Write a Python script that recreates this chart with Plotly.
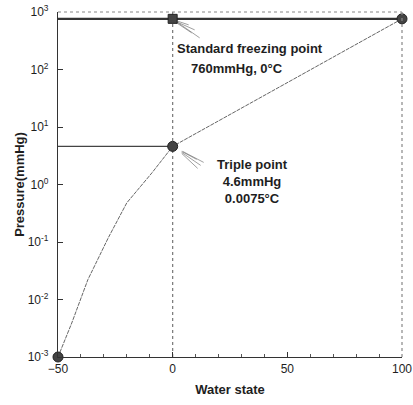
import math
import plotly.graph_objects as go

# ---- data ----
curve_temp = [-50, -44, -37, -28, -20, -9, 0, 50, 100]
curve_pressure = [0.001, 0.0039, 0.022, 0.12, 0.48, 1.6, 4.6, 59, 760]

circle_temp = [-50, 0, 100]
circle_pressure = [0.001, 4.6, 760]

freezing_temp = [0]
freezing_pressure = [760]

triple_temp = 0
triple_pressure = 4.6
std_pressure = 760

x_ticks = [-50, 0, 50, 100]
y_ticks = [1e-3, 1e-2, 1e-1, 1e0, 1e1, 1e2, 1e3]
y_ticktext = ["10<sup>-3</sup>", "10<sup>-2</sup>", "10<sup>-1</sup>", "10<sup>0</sup>",
              "10<sup>1</sup>", "10<sup>2</sup>", "10<sup>3</sup>"]

FONT = "Liberation Sans, Arial, sans-serif"
TXT = "#1e1e1e"

W, H = 413, 405
ML, MR, MT, MB = 58, 11, 12, 48
XR = [-50, 100]
YR = [-3, 3]
kx = (W - ML - MR) / (XR[1] - XR[0])   # px per x unit
ky = (H - MT - MB) / (YR[1] - YR[0])   # px per decade

fig = go.Figure()

# reference lines
fig.add_trace(go.Scatter(x=[x_ticks[0], x_ticks[-1]], y=[std_pressure, std_pressure], mode="lines",
                         line=dict(color="#333333", width=2.2), hoverinfo="skip", showlegend=False))
fig.add_trace(go.Scatter(x=[x_ticks[0], triple_temp], y=[triple_pressure, triple_pressure], mode="lines",
                         line=dict(color="#444444", width=1.3), hoverinfo="skip", showlegend=False))
fig.add_trace(go.Scatter(x=[triple_temp, triple_temp], y=[y_ticks[0], y_ticks[-1]], mode="lines",
                         line=dict(color="#777777", width=1.2, dash="dot"), hoverinfo="skip", showlegend=False))

# curve
fig.add_trace(go.Scatter(x=curve_temp, y=curve_pressure, mode="lines",
                         line=dict(color="#666666", width=1, dash="4px,1px"), showlegend=False))

# leader-line fans: pixel offsets (right, down) from the anchor points
def fan(ax, ay, segs):
    xs, ys = [], []
    for (x0, y0, x1, y1) in segs:
        for dx, dy in ((x0, y0), (x1, y1)):
            xs.append(ax + dx / kx)
            ys.append(10 ** (math.log10(ay) - dy / ky))
        xs.append(None)
        ys.append(None)
    return xs, ys

fx, fy = fan(freezing_temp[0], freezing_pressure[0],
             [(4, 2, 16, 6), (4, 3, 22, 11), (4, 3, 27, 19), (4, 4, 19, 14)])
tx, ty = fan(triple_temp, triple_pressure,
             [(9, 5, 24, 13), (9, 6, 28, 19), (9, 7, 25, 22), (10, 5, 31, 16)])
fig.add_trace(go.Scatter(x=fx + tx, y=fy + ty, mode="lines", connectgaps=False,
                         line=dict(color="#777777", width=0.7), hoverinfo="skip", showlegend=False))

# markers
fig.add_trace(go.Scatter(x=circle_temp, y=circle_pressure, mode="markers", cliponaxis=False,
                         marker=dict(symbol="circle", size=10, color="#444444",
                                     line=dict(color="#222222", width=1)), showlegend=False))
fig.add_trace(go.Scatter(x=freezing_temp, y=freezing_pressure, mode="markers", cliponaxis=False,
                         marker=dict(symbol="square", size=9, color="#444444",
                                     line=dict(color="#222222", width=1)), showlegend=False))

shapes = [
    dict(type="line", xref="paper", yref="paper", x0=0, x1=1, y0=1, y1=1,
         line=dict(color="#888888", width=1.2, dash="dot")),
    dict(type="line", xref="paper", yref="paper", x0=1, x1=1, y0=0, y1=1,
         line=dict(color="#888888", width=1.2, dash="dot")),
]

annotations = [
    dict(x=0.0, y=2.37, xref="x", yref="y", xanchor="left", yanchor="middle",
         xshift=2, text="<b>Standard freezing point</b>", showarrow=False,
         font=dict(family=FONT, size=13, color=TXT)),
    dict(x=0.0, y=2.02, xref="x", yref="y", xanchor="left", yanchor="middle",
         xshift=16, text="<b>760mmHg, 0°C</b>", showarrow=False,
         font=dict(family=FONT, size=13, color=TXT)),
    dict(x=34.6, y=0.06, xref="x", yref="y", xanchor="center", yanchor="middle",
         text="<b>Triple point</b><br><b>4.6mmHg</b><br><b>0.0075°C</b>", showarrow=False,
         align="center", font=dict(family=FONT, size=13, color=TXT)),
]

fig.update_layout(
    width=W, height=H,
    margin=dict(l=ML, r=MR, t=MT, b=MB),
    paper_bgcolor="white", plot_bgcolor="white",
    font=dict(family=FONT, size=12, color=TXT),
    annotations=annotations,
    shapes=shapes,
    xaxis=dict(range=XR, tickvals=x_ticks, ticks="inside", ticklen=5, tickcolor="#333333",
               showline=True, linecolor="#333333", linewidth=1.2, showgrid=False, zeroline=False,
               automargin=False,
               tickfont=dict(size=12, family=FONT, color=TXT),
               minor=dict(dtick=10, ticks="inside", ticklen=3, tickcolor="#555555"),
               title=dict(text="<b>Water state</b>", font=dict(size=13, family=FONT, color=TXT),
                          standoff=10)),
    yaxis=dict(type="log", range=YR, tickvals=y_ticks, ticktext=y_ticktext,
               ticks="inside", ticklen=5, tickcolor="#333333", ticklabelstandoff=6,
               showline=True, linecolor="#333333", linewidth=1.2, showgrid=False, zeroline=False,
               automargin=False,
               tickfont=dict(size=12, family=FONT, color=TXT),
               title=dict(text="<b>Pressure(mmHg)</b>", font=dict(size=13, family=FONT, color=TXT),
                          standoff=0)),
)

fig.write_html("out.html")
